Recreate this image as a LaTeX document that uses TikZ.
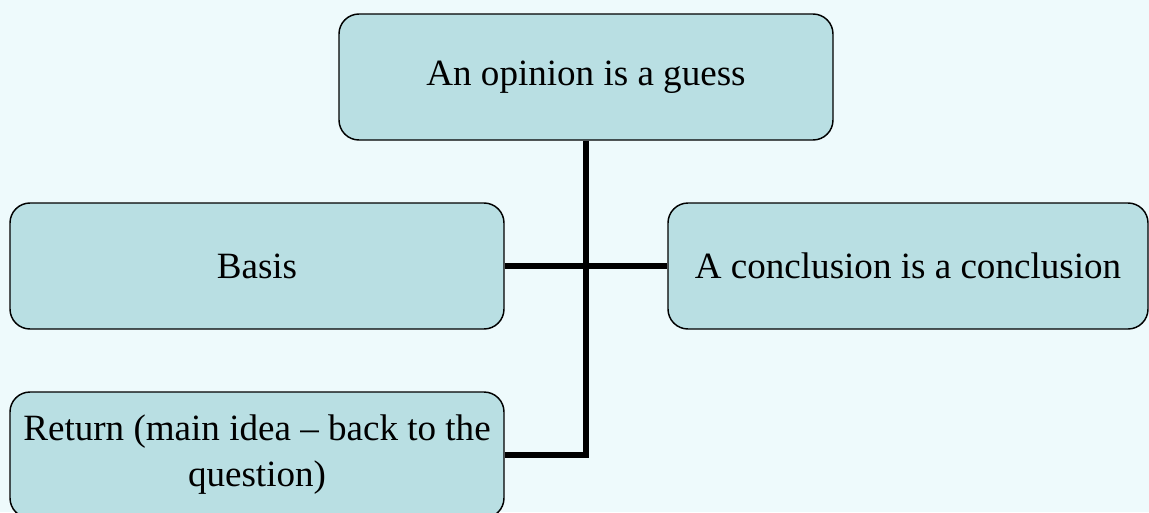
\documentclass[tikz,border=0pt]{standalone}
\usepackage{fontspec}
\setmainfont{Liberation Serif}
\definecolor{pagebg}{HTML}{EEFAFC}
\definecolor{boxfill}{HTML}{B9DFE3}
\tikzset{
  idea/.style={draw=black, line width=1.1pt, fill=boxfill, rounded corners=15pt,
    minimum width=370.5pt, minimum height=94.5pt, inner sep=0pt, align=center,
    font=\fontsize{27.8}{34.5}\selectfont},
  link/.style={line width=4.5pt}
}
\begin{document}
\begin{tikzpicture}[x=0.75pt, y=-0.75pt]
            \clip (0,0) rectangle (1149,512);
            \fill [pagebg] (0,0) rectangle (1149,512);
               \node [idea] (guess) at (586,77) {An opinion is a guess};
               \node [idea] (basis) at (257,266) {Basis};
               \node [idea, minimum width=360pt] (concl) at (908,266) {A conclusion is a conclusion};
               \node [idea] (ret) at (257,455) {Return (main idea -- back to the\\question)};
               \coordinate (bend) at (guess.south |- ret.east);
               \draw [link] (basis.east) -- (concl.west);
               \draw [link] (guess.south) -- (bend) -- (ret.east);
           \end{tikzpicture}
\end{document}
